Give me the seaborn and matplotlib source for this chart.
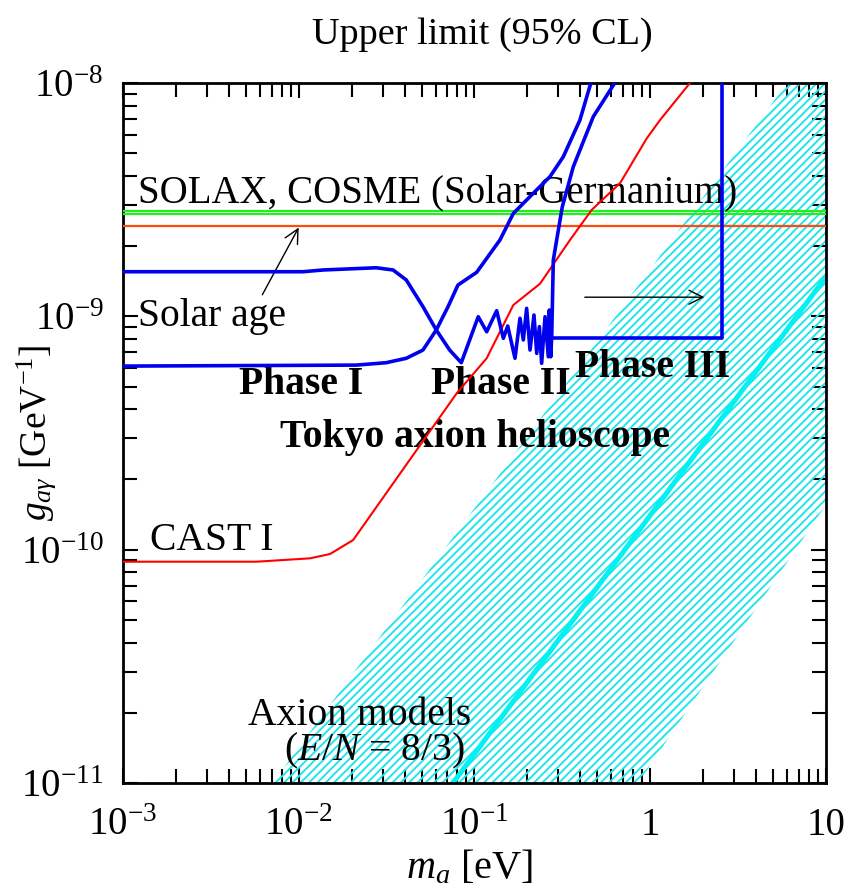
import numpy as np
import pandas as pd
import seaborn as sns
import matplotlib
matplotlib.use("Agg")
import matplotlib.pyplot as plt
from matplotlib.ticker import LogLocator, NullFormatter, FixedLocator, FixedFormatter

# ---------------- data ----------------
phase1_m = [0.001, 0.0213, 0.0315, 0.0409, 0.0509, 0.0606, 0.0707, 0.0805, 0.1029,
            0.1396, 0.1663, 0.2161, 0.269, 0.32, 0.398, 0.4645]
phase1_g = [6.12e-10, 6.18e-10, 6.33e-10, 6.61e-10, 7.17e-10, 8.74e-10, 1.10e-9, 1.362e-9,
            1.544e-9, 2.125e-9, 2.76e-9, 3.37e-9, 3.97e-9, 4.83e-9, 6.94e-9, 1.03e-8]

phase2_m = [0.001, 0.01057, 0.01374, 0.0276, 0.0344, 0.0409, 0.0509, 0.0606, 0.0722, 0.0841,
            0.105, 0.1173, 0.1337, 0.1459, 0.1545, 0.170, 0.1815, 0.1896, 0.198, 0.207,
            0.218, 0.226, 0.234, 0.241, 0.252, 0.263, 0.2665, 0.2715, 0.275, 0.2808,
            0.2935, 0.316, 0.365, 0.474, 0.644]
phase2_g = [1.553e-9, 1.553e-9, 1.58e-9, 1.615e-9, 1.58e-9, 1.432e-9, 1.10e-9, 8.74e-10, 7.17e-10, 6.33e-10,
            9.96e-10, 8.59e-10, 1.057e-9, 8.05e-10, 9.09e-10, 6.61e-10, 9.81e-10, 7.92e-10, 1.082e-9, 7.17e-10,
            1.013e-9, 6.94e-10, 9.03e-10, 6.29e-10, 9.96e-10, 6.71e-10, 1.064e-9, 6.71e-10, 8.18e-10, 1.742e-9,
            2.125e-9, 2.95e-9, 4.38e-9, 7.17e-9, 1.03e-8]

phase3_m = [0.275, 2.55, 2.55]
phase3_g = [8.1e-10, 8.1e-10, 1.2e-8]

cast_m = [0.001, 0.00576, 0.01159, 0.01506, 0.0204, 0.0792, 0.1173, 0.1663, 0.236,
          0.3496, 0.4645, 0.673, 0.955, 1.137, 1.683]
cast_g = [8.88e-11, 8.88e-11, 9.18e-11, 9.58e-11, 1.10e-10, 4.68e-10, 6.61e-10, 1.118e-9,
          1.38e-9, 2.125e-9, 2.86e-9, 3.72e-9, 5.79e-9, 6.94e-9, 1.0e-8]

solax_g = [2.84e-9, 2.75e-9]
solar_age_g = [2.45e-9]

band_m = [0.0071, 6.0, 10.0, 10.0, 0.855]
band_g = [1e-11, 1e-8, 1e-8, 1.56e-10, 1e-11]

ksvz_m = [0.0755, 10.0]
ksvz_g = [1e-11, 1.48e-9]

xticks = [1e-3, 1e-2, 1e-1, 1, 10]
xticklabels = [r"$10^{-3}$", r"$10^{-2}$", r"$10^{-1}$", "1", "10"]
yticks = [1e-11, 1e-10, 1e-9, 1e-8]
yticklabels = [r"$10^{-11}$", r"$10^{-10}$", r"$10^{-9}$", r"$10^{-8}$"]

# ---------------- style ----------------
sns.set_theme(style="ticks")
plt.rcParams["font.family"] = ["Liberation Serif", "DejaVu Serif"]
plt.rcParams["mathtext.fontset"] = "custom"
plt.rcParams["mathtext.rm"] = "Liberation Serif"
plt.rcParams["mathtext.it"] = "Liberation Serif:italic"
plt.rcParams["mathtext.bf"] = "Liberation Serif:bold"
plt.rcParams["hatch.linewidth"] = 1.4
plt.rcParams["text.color"] = "black"
plt.rcParams["axes.labelcolor"] = "black"
plt.rcParams["xtick.color"] = "black"
plt.rcParams["ytick.color"] = "black"

CYAN = "#22e4ec"

fig = plt.figure(figsize=(8.54, 8.96), dpi=100)
ax = fig.add_axes([123/854, 1-783/896, 703/854, 700/896])
ax.set_xscale("log")
ax.set_yscale("log")
ax.set_xlim(1e-3, 10)
ax.set_ylim(1e-11, 1e-8)

# axion band (hatched)
ax.fill(band_m, band_g, facecolor="none", edgecolor=CYAN, linewidth=0, hatch="////", zorder=1)
sns.lineplot(x=ksvz_m, y=ksvz_g, ax=ax, color="#00f2f2", lw=3.6, sort=False, estimator=None, zorder=2)

# horizontal limits
for g in solax_g:
    ax.axhline(g, color="#22ee22", lw=1.6, zorder=3)
for g in solar_age_g:
    ax.axhline(g, color="#ff4a10", lw=1.6, zorder=3)

sns.lineplot(x=cast_m, y=cast_g, ax=ax, color="#ff0000", lw=1.5, sort=False, estimator=None, zorder=4)
for m, g in [(phase1_m, phase1_g), (phase2_m, phase2_g), (phase3_m, phase3_g)]:
    sns.lineplot(x=m, y=g, ax=ax, color="#0000ee", lw=2.6, sort=False, estimator=None, zorder=5)
for ln in ax.lines:
    ln.set_solid_joinstyle("round")

# ticks
ax.xaxis.set_major_locator(FixedLocator(xticks))
ax.xaxis.set_major_formatter(FixedFormatter(xticklabels))
ax.yaxis.set_major_locator(FixedLocator(yticks))
ax.yaxis.set_major_formatter(FixedFormatter(yticklabels))
ax.xaxis.set_minor_locator(LogLocator(base=10, subs=np.arange(2, 10), numticks=20))
ax.yaxis.set_minor_locator(LogLocator(base=10, subs=np.arange(2, 10), numticks=20))
ax.xaxis.set_minor_formatter(NullFormatter())
ax.yaxis.set_minor_formatter(NullFormatter())
ax.tick_params(which="both", direction="in", top=True, right=True, width=1.5, colors="black",
               labelsize=28)
ax.tick_params(which="major", length=11)
ax.tick_params(which="minor", length=10)
ax.tick_params(axis="x", pad=17)
ax.tick_params(axis="y", pad=14)
for s in ax.spines.values():
    s.set_linewidth(2.0)
    s.set_color("black")
ax.grid(False)

ax.set_xlabel(r"$m_a$ [eV]", fontsize=29, color="black")
ax.xaxis.set_label_coords(0.493, -0.093)
ax.set_ylabel(r"$g_{a\gamma}$ [GeV$^{-1}$]", fontsize=27, color="black")
ax.yaxis.set_label_coords(-0.092, 0.50)

fig.text(482/854, 1-35/896, "Upper limit (95% CL)", ha="center", va="center", fontsize=27.5,
         color="black")

tk = dict(transform=ax.transAxes, fontsize=28.5, color="black")
ax.text(0.0213, 0.843, "SOLAX, COSME (Solar-Germanium)", ha="left", va="center",
        transform=ax.transAxes, fontsize=28, color="black")
ax.text(0.0213, 0.666, "Solar age", ha="left", va="center", **tk)
ax.text(0.0384, 0.347, "CAST I", ha="left", va="center", **tk)
ax.text(0.253, 0.569, "Phase I", ha="center", va="center", fontweight="bold", **tk)
ax.text(0.538, 0.569, "Phase II", ha="center", va="center", fontweight="bold", **tk)
ax.text(0.753, 0.593, "Phase III", ha="center", va="center", fontweight="bold", **tk)
ax.text(0.501, 0.493, "Tokyo axion helioscope", ha="center", va="center", fontweight="bold", **tk)
tk2 = dict(transform=ax.transAxes, fontsize=28.5, color="black")
ax.text(0.336, 0.097, "Axion models", ha="center", va="center", **tk2)
ax.text(0.358, 0.046, r"($E/N$ = 8/3)", ha="center", va="center", **tk2)

arr = dict(arrowstyle="->", color="black", lw=1.0, mutation_scale=25)
ax.annotate("", xy=(0.2518, 0.797), xytext=(0.1963, 0.694), xycoords="axes fraction",
            textcoords="axes fraction", arrowprops=arr)
ax.annotate("", xy=(0.831, 0.694), xytext=(0.653, 0.694), xycoords="axes fraction",
            textcoords="axes fraction", arrowprops=arr)

fig.savefig("out.png", dpi=100)
